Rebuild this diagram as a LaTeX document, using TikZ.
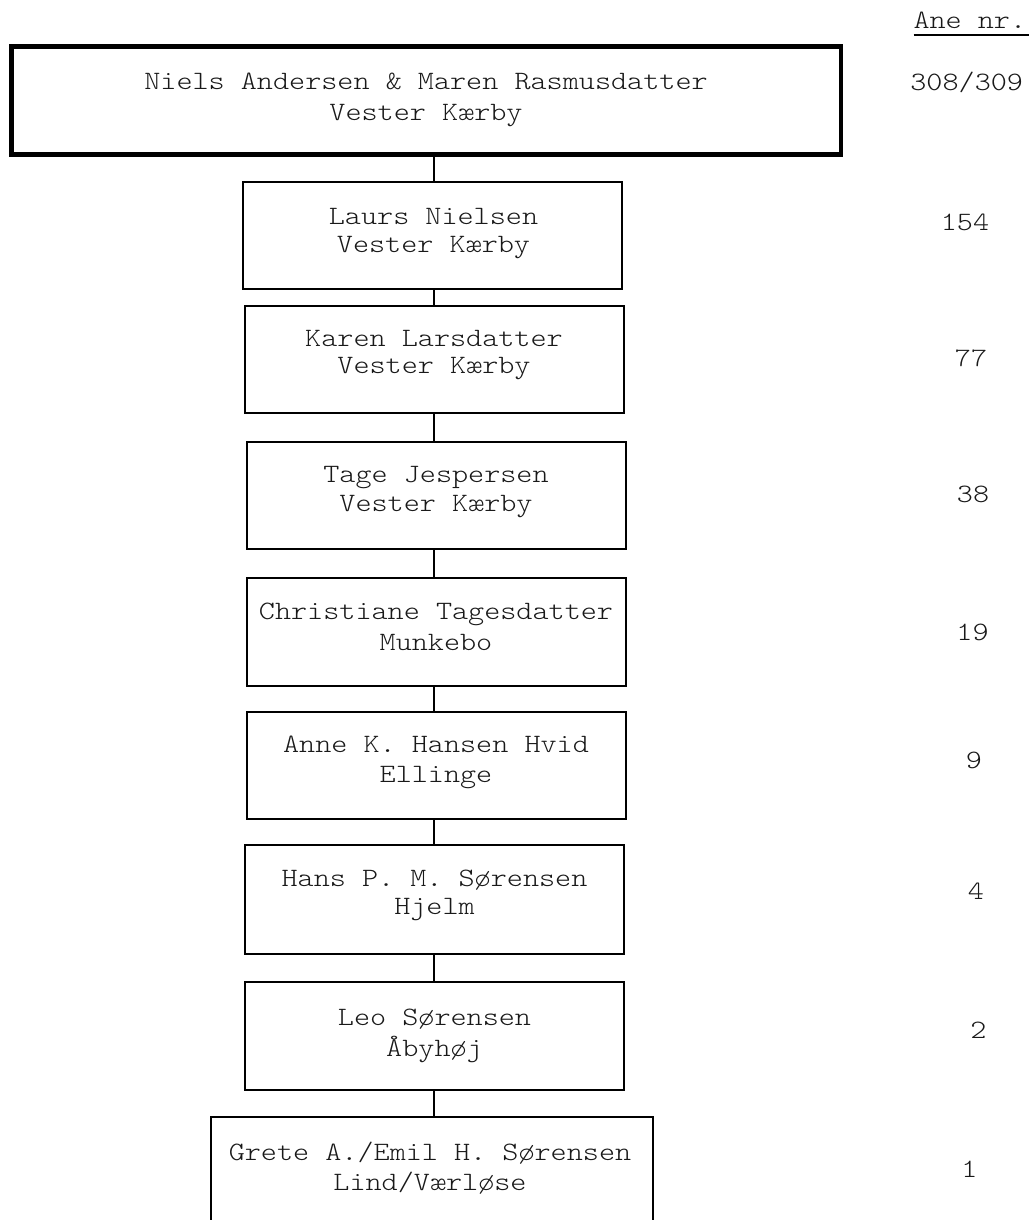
\documentclass[tikz,border=0pt]{standalone}
\usepackage{fontspec}
\IfFontExistsTF{Latin Modern Mono Light}
  {\newfontfamily\courfont[FakeStretch=1.157]{Latin Modern Mono Light}}
  {\newfontfamily\courfont[FakeStretch=1.157]{Latin Modern Mono}}
\begin{document}
\begin{tikzpicture}[x=1pt,y=-1pt,
  box/.style={draw=black, line width=2pt, rectangle, inner sep=0pt, outer sep=0pt, minimum width=379pt, minimum height=107.6pt},
  topbox/.style={box, line width=4.5pt},
  txt/.style={inner sep=0pt, outer sep=0pt, anchor=base, text=black!90, font=\courfont\fontsize{26.5}{29.5}\selectfont},
  conn/.style={draw=black, line width=2pt}]
\useasboundingbox (0,0) rectangle (1029,1220);
\clip (0,0) rectangle (1029,1220);
\coordinate (sp) at (434,0);

% boxes
\node[topbox, minimum width=829.5pt, minimum height=108.2pt] (b0) at (426.25,100.6) {};
\node[box] (b1) at (432.2,235.5) {};
\node[box] (b2) at (434.2,359.5) {};
\node[box, minimum width=379.3pt] (b3) at (436.35,495.5) {};
\node[box, minimum width=379.3pt, minimum height=107.4pt] (b4) at (436.35,632) {};
\node[box, minimum width=379.3pt] (b5) at (436.35,765.5) {};
\node[box, minimum height=109.3pt] (b6) at (434.5,899.65) {};
\node[box, minimum height=107.7pt] (b7) at (434.5,1036.15) {};
\node[box, minimum width=442.6pt, minimum height=108pt] (b8) at (432,1170.7) {};

% connectors
\draw[conn] (b0.south -| sp) -- (b1.north -| sp);
\draw[conn] (b1.south -| sp) -- (b2.north -| sp);
\draw[conn] (b2.south -| sp) -- (b3.north -| sp);
\draw[conn] (b3.south -| sp) -- (b4.north -| sp);
\draw[conn] (b4.south -| sp) -- (b5.north -| sp);
\draw[conn] (b5.south -| sp) -- (b6.north -| sp);
\draw[conn] (b6.south -| sp) -- (b7.north -| sp);
\draw[conn] (b7.south -| sp) -- (b8.north -| sp);

% texts
\node[txt] (t0a) at (426,90) {Niels Andersen \& Maren Rasmusdatter};
\node[txt] (t0b) at (426,120.5) {Vester Kærby};
\node[txt] (t1a) at (433.5,224) {Laurs Nielsen};
\node[txt] (t1b) at (433.5,252) {Vester Kærby};
\node[txt] (t2a) at (434,346) {Karen Larsdatter};
\node[txt] (t2b) at (434,373.3) {Vester Kærby};
\node[txt] (t3a) at (436,482.7) {Tage Jespersen};
\node[txt] (t3b) at (436,511.7) {Vester Kærby};
\node[txt] (t4a) at (436,619.3) {Christiane Tagesdatter};
\node[txt] (t4b) at (436,650) {Munkebo};
\node[txt] (t5a) at (436,752.7) {Anne K. Hansen Hvid};
\node[txt] (t5b) at (436,782.7) {Ellinge};
\node[txt] (t6a) at (434.5,886.7) {Hans P. M. Sørensen};
\node[txt] (t6b) at (434.5,914.5) {Hjelm};
\node[txt] (t7a) at (434.5,1025.7) {Leo Sørensen};
\node[txt] (t7b) at (434.5,1056.7) {Åbyhøj};
\node[txt] (t8a) at (430,1160) {Grete A./Emil H. Sørensen};
\node[txt] (t8b) at (430,1190.7) {Lind/Værløse};

% ancestor numbers
\node[txt, anchor=base west] (hdr) at (913.5,28.5) {Ane nr.};
\draw[black, line width=1.6pt] (hdr.base west |- 0,35) -- (1029,35);
\node[txt] (n0) at (966.7,91) {308/309};
\node[txt] (n1) at (965,230.7) {154};
\node[txt] (n2) at (971,366) {77};
\node[txt] (n3) at (973,502.5) {38};
\node[txt] (n4) at (972.5,640.7) {19};
\node[txt] (n5) at (974,768.3) {9};
\node[txt] (n6) at (976,899.5) {4};
\node[txt] (n7) at (978.5,1038.5) {2};
\node[txt] (n8) at (969.5,1177.5) {1};
\end{tikzpicture}
\end{document}
